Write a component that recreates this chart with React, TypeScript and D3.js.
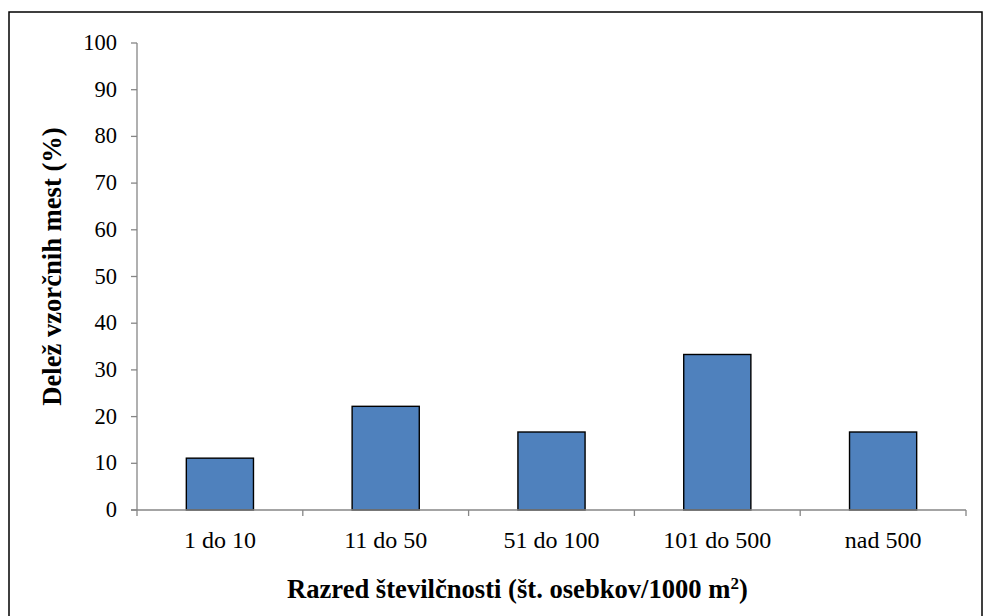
import React from "react";
import * as d3 from "d3";

const categories = ["1 do 10", "11 do 50", "51 do 100", "101 do 500", "nad 500"];
const values = [11.1, 22.2, 16.7, 33.3, 16.7];
const yTicks = [0, 10, 20, 30, 40, 50, 60, 70, 80, 90, 100];
const yTitle = "Delež vzorčnih mest (%)";
const xTitle = "Razred številčnosti (št. osebkov/1000 m";

export default function App() {
  const W = 984, H = 616;
  const left = 137, right = 966, top = 43, bottom = 510;
  const x = d3.scaleBand<string>().domain(categories).range([left, right]).paddingInner(0).paddingOuter(0);
  const y = d3.scaleLinear().domain([0, 100]).range([bottom, top]);
  const bw = x.bandwidth() * 0.405;
  const axisColor = "#868686";
  const font = "'Liberation Serif', 'Times New Roman', serif";
  const boundaries = categories.map((c) => x(c)!).concat([right]);
  return (
    <svg width={W} height={H} style={{ position: "absolute", left: 0, top: 0, background: "#fff" }} fontFamily={font}>
      <rect x={9} y={12} width={973} height={620} fill="#fff" stroke="#000" strokeWidth={1.5} />
      {categories.map((c, i) => {
        const cx = x(c)! + x.bandwidth() / 2;
        return (
          <rect key={c} x={cx - bw / 2} y={y(values[i])} width={bw} height={bottom - y(values[i])}
            fill="#4F81BD" stroke="#000" strokeWidth={1.4} />
        );
      })}
      <line x1={left} x2={left} y1={top} y2={bottom} stroke={axisColor} strokeWidth={1.3} />
      {yTicks.map((t) => (
        <g key={t}>
          <line x1={left - 6} x2={left} y1={y(t)} y2={y(t)} stroke={axisColor} strokeWidth={1.3} />
          <text x={117} y={y(t) + 7} textAnchor="end" fontSize={22.5}>{t}</text>
        </g>
      ))}
      <line x1={left - 6} x2={right} y1={bottom} y2={bottom} stroke={axisColor} strokeWidth={1.3} />
      {boundaries.map((b, i) => (
        <line key={i} x1={b} x2={b} y1={bottom} y2={bottom + 6} stroke={axisColor} strokeWidth={1.3} />
      ))}
      {categories.map((c) => (
        <text key={c} x={x(c)! + x.bandwidth() / 2} y={548} textAnchor="middle" fontSize={24}>{c}</text>
      ))}
      <text x={287} y={598} textAnchor="start" fontSize={26.6} fontWeight="bold">
        {xTitle}<tspan dy="-9" fontSize={17}>2</tspan><tspan dy="9">)</tspan>
      </text>
      <text transform={`translate(61, 266.5) rotate(-90)`} textAnchor="middle" fontSize={26.6} fontWeight="bold">{yTitle}</text>
    </svg>
  );
}
